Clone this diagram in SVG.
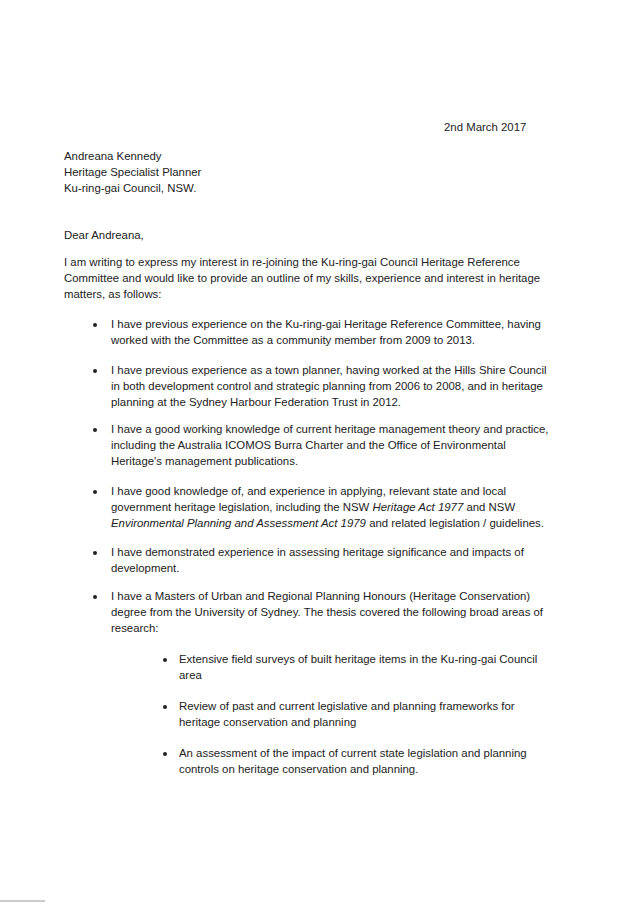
<svg xmlns="http://www.w3.org/2000/svg" width="637" height="909" viewBox="0 0 637 909">
<style>
text{font-family:"Liberation Sans",Arial,sans-serif;font-size:11.4px;fill:#222}
.i{font-style:italic}
</style>
<rect width="637" height="909" fill="#fff"/>
<g id="letter">
<text x="444" y="131">2nd March 2017</text>
<text x="64" y="160">Andreana Kennedy</text>
<text x="64" y="176">Heritage Specialist Planner</text>
<text x="64" y="192">Ku-ring-gai Council, NSW.</text>
<text x="64" y="239">Dear Andreana,</text>
<text x="64" y="266">I am writing to express my interest in re-joining the Ku-ring-gai Council Heritage Reference</text>
<text x="64" y="282">Committee and would like to provide an outline of my skills, experience and interest in heritage</text>
<text x="64" y="298">matters, as follows:</text>
</g>
<g id="bullets" fill="#222">
<circle cx="95" cy="325" r="2"/><circle cx="95" cy="371" r="2"/><circle cx="95" cy="430" r="2"/>
<circle cx="95" cy="492" r="2"/><circle cx="95" cy="553" r="2"/><circle cx="95" cy="597" r="2"/>
<circle cx="165" cy="660" r="2"/><circle cx="165" cy="707" r="2"/><circle cx="165" cy="754" r="2"/>
</g>
<g id="items">
<text x="111" y="328">I have previous experience on the Ku-ring-gai Heritage Reference Committee, having</text>
<text x="111" y="344">worked with the Committee as a community member from 2009 to 2013.</text>
<text x="111" y="374">I have previous experience as a town planner, having worked at the Hills Shire Council</text>
<text x="111" y="390">in both development control and strategic planning from 2006 to 2008, and in heritage</text>
<text x="111" y="406">planning at the Sydney Harbour Federation Trust in 2012.</text>
<text x="111" y="433">I have a good working knowledge of current heritage management theory and practice,</text>
<text x="111" y="449">including the Australia ICOMOS Burra Charter and the Office of Environmental</text>
<text x="111" y="465">Heritage's management publications.</text>
<text x="111" y="495">I have good knowledge of, and experience in applying, relevant state and local</text>
<text x="111" y="511">government heritage legislation, including the NSW <tspan class="i">Heritage Act 1977</tspan> and NSW</text>
<text x="111" y="527"><tspan class="i">Environmental Planning and Assessment Act 1979</tspan> and related legislation / guidelines.</text>
<text x="111" y="556">I have demonstrated experience in assessing heritage significance and impacts of</text>
<text x="111" y="572">development.</text>
<text x="111" y="600">I have a Masters of Urban and Regional Planning Honours (Heritage Conservation)</text>
<text x="111" y="616">degree from the University of Sydney. The thesis covered the following broad areas of</text>
<text x="111" y="632">research:</text>
<text x="179" y="663">Extensive field surveys of built heritage items in the Ku-ring-gai Council</text>
<text x="179" y="679">area</text>
<text x="179" y="710">Review of past and current legislative and planning frameworks for</text>
<text x="179" y="726">heritage conservation and planning</text>
<text x="179" y="757">An assessment of the impact of current state legislation and planning</text>
<text x="179" y="773">controls on heritage conservation and planning.</text>
</g>
<line x1="0" y1="901" x2="45" y2="901" stroke="#999" stroke-width="1"/>
</svg>
